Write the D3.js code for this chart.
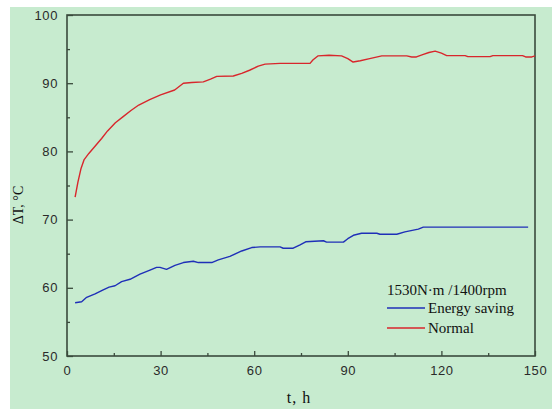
<!DOCTYPE html>
<html>
<head>
<meta charset="utf-8">
<script src="https://cdn.jsdelivr.net/npm/d3@7"></script>
<style>
  body { margin: 0; background: #ffffff; }
  .tickLabel text { font-family: "Liberation Sans", Arial, sans-serif; font-size: 13px; fill: #2a2a2a; letter-spacing: 0.6px; }
  .serif { font-family: "Liberation Serif", "Times New Roman", serif; fill: #111; }
</style>
</head>
<body>
<div id="chart"></div>
<script>
// data: running time t (h) and temperature rise (°C)
const normalT = [2.6, 3.5, 4.5, 5.5, 7, 8.5, 10, 11.1, 13, 15.5, 18, 20.5, 23, 26.5, 30, 34.5,
  37.3, 40, 43.7, 46, 48, 53.3, 56, 58.5, 61.3, 63.5, 68.3, 72, 77.9, 78.8, 80.4, 84, 88, 90,
  91.7, 94, 97, 100.9, 108.9, 110.5, 112, 114, 116, 118, 120, 121.7, 127.6, 128.5, 135.6,
  136.5, 146, 147, 149, 150];
const normalValues = [73.3, 75.5, 77.5, 78.8, 79.7, 80.5, 81.3, 81.9, 83, 84.2, 85.1, 86, 86.8,
  87.6, 88.3, 89, 90, 90.1, 90.2, 90.6, 91, 91.05, 91.45, 91.9, 92.5, 92.8, 92.9, 92.9, 92.9,
  93.4, 94, 94.1, 94, 93.6, 93.1, 93.3, 93.6, 94, 94, 93.85, 93.85, 94.2, 94.5, 94.7, 94.4,
  94.05, 94.05, 93.9, 93.9, 94.05, 94.05, 93.85, 93.85, 94];

const savingT = [2.6, 4.7, 6.3, 9, 11.6, 13.5, 15.4, 17.5, 20.2, 23.4, 26.6, 28.7, 29.8, 31.9,
  34.6, 37.3, 40.5, 42.1, 46.4, 48.5, 52.2, 56, 59.2, 61.9, 68.3, 69.3, 72.5, 74.7, 76.5, 82.2,
  83.2, 88.6, 90, 91.8, 94.4, 99.3, 100.3, 105.7, 108.3, 112.6, 114.2, 147.8];
const savingValues = [57.8, 57.96, 58.6, 59.1, 59.7, 60.1, 60.3, 60.9, 61.25, 62, 62.6, 63, 63,
  62.7, 63.3, 63.7, 63.9, 63.7, 63.7, 64.1, 64.6, 65.4, 65.9, 66, 66, 65.8, 65.8, 66.3, 66.75,
  66.9, 66.7, 66.7, 67.2, 67.7, 68, 68, 67.85, 67.85, 68.2, 68.6, 68.9, 68.9];

const xMajorTicks = [0, 30, 60, 90, 120, 150];
const xMinorTicks = [15, 45, 75, 105, 135];
const yMajorTicks = [50, 60, 70, 80, 90, 100];
const yMinorTicks = [55, 65, 75, 85, 95];

const legendTitle = "1530N\u00b7m /1400rpm";
const seriesNames = ["Energy saving", "Normal"];

const SAVING_COLOR = "#1f2fb8";
const NORMAL_COLOR = "#d8262c";
const AXIS_COLOR = "#3a4a3c";
const BACKGROUND = "#c7ebcf";

let margin = {top: 15, left: 67, bottom: 53, right: 17};
let width = 552 - margin.left - margin.right,
    height = 409 - margin.top - margin.bottom;

let root = d3.select("#chart").append("svg")
  .attr("width", 552)
  .attr("height", 409);

// light green panel, with a thin white strip on the top and left
root.append("rect")
  .attr("x", 10).attr("y", 7)
  .attr("width", 542).attr("height", 402)
  .attr("fill", BACKGROUND);

let svg = root.append("g")
  .attr("transform", `translate(${margin.left}, ${margin.top})`);

let x = d3.scaleLinear().domain([0, 150]).range([0, width]);
let y = d3.scaleLinear().domain([50, 100]).range([height, 0]);

// axes: ticks point inwards, minor ticks without labels
function appendAxes() {
  svg.append("g")
    .attr("class", "tickLabel")
    .attr("transform", `translate(0, ${height})`)
    .call(d3.axisBottom(x).tickValues(xMajorTicks).tickSize(-5).tickPadding(10).tickFormat(d3.format("d")));

  svg.append("g")
    .attr("transform", `translate(0, ${height})`)
    .call(d3.axisBottom(x).tickValues(xMinorTicks).tickSize(-3).tickFormat(""));

  svg.append("g")
    .attr("class", "tickLabel")
    .call(d3.axisLeft(y).tickValues(yMajorTicks).tickSize(-6).tickPadding(9).tickFormat(d3.format("d")));

  svg.append("g")
    .call(d3.axisLeft(y).tickValues(yMinorTicks).tickSize(-3).tickFormat(""));

  svg.selectAll(".domain").remove();
  svg.selectAll(".tick line").attr("stroke", AXIS_COLOR).attr("stroke-width", 1.3);

  svg.append("rect")
    .attr("width", width).attr("height", height)
    .attr("fill", "none")
    .attr("stroke", AXIS_COLOR)
    .attr("stroke-width", 1.6);
}

function appendLabels() {
  svg.append("text")
    .attr("class", "serif")
    .attr("x", width / 2 - 2)
    .attr("y", height + 47)
    .attr("text-anchor", "middle")
    .style("font-size", "16px")
    .style("letter-spacing", "1px")
    .text("t, h");

  svg.append("text")
    .attr("class", "serif")
    .attr("transform", `translate(${23 - margin.left}, ${190}) rotate(-90)`)
    .attr("text-anchor", "middle")
    .style("font-size", "14px")
    .text("\u0394T, \u00b0C");
}

function appendLine(xs, ys, color) {
  let line = d3.line()
    .x(function(d, i) { return x(xs[i]); })
    .y(function(d) { return y(d); });

  svg.append("path")
    .datum(ys)
    .attr("fill", "none")
    .attr("stroke", color)
    .attr("stroke-width", 1.4)
    .attr("stroke-linejoin", "round")
    .attr("d", line);
}

function appendLegend() {
  let legend = svg.append("g").attr("class", "legend");
  let lx = 320, ly = 280;

  legend.append("text")
    .attr("class", "serif")
    .attr("x", lx)
    .attr("y", ly)
    .style("font-size", "15px")
    .text(legendTitle);

  [SAVING_COLOR, NORMAL_COLOR].forEach(function(c, i) {
    legend.append("line")
      .attr("x1", lx).attr("x2", lx + 38)
      .attr("y1", ly + 13 + i * 20).attr("y2", ly + 13 + i * 20)
      .attr("stroke", c).attr("stroke-width", 1.4);
    legend.append("text")
      .attr("class", "serif")
      .attr("x", lx + 41)
      .attr("y", ly + 18 + i * 20)
      .style("font-size", "15px")
      .text(seriesNames[i]);
  });
}

appendAxes();
appendLine(savingT, savingValues, SAVING_COLOR);
appendLine(normalT, normalValues, NORMAL_COLOR);
appendLegend();
appendLabels();
</script>
</body>
</html>
